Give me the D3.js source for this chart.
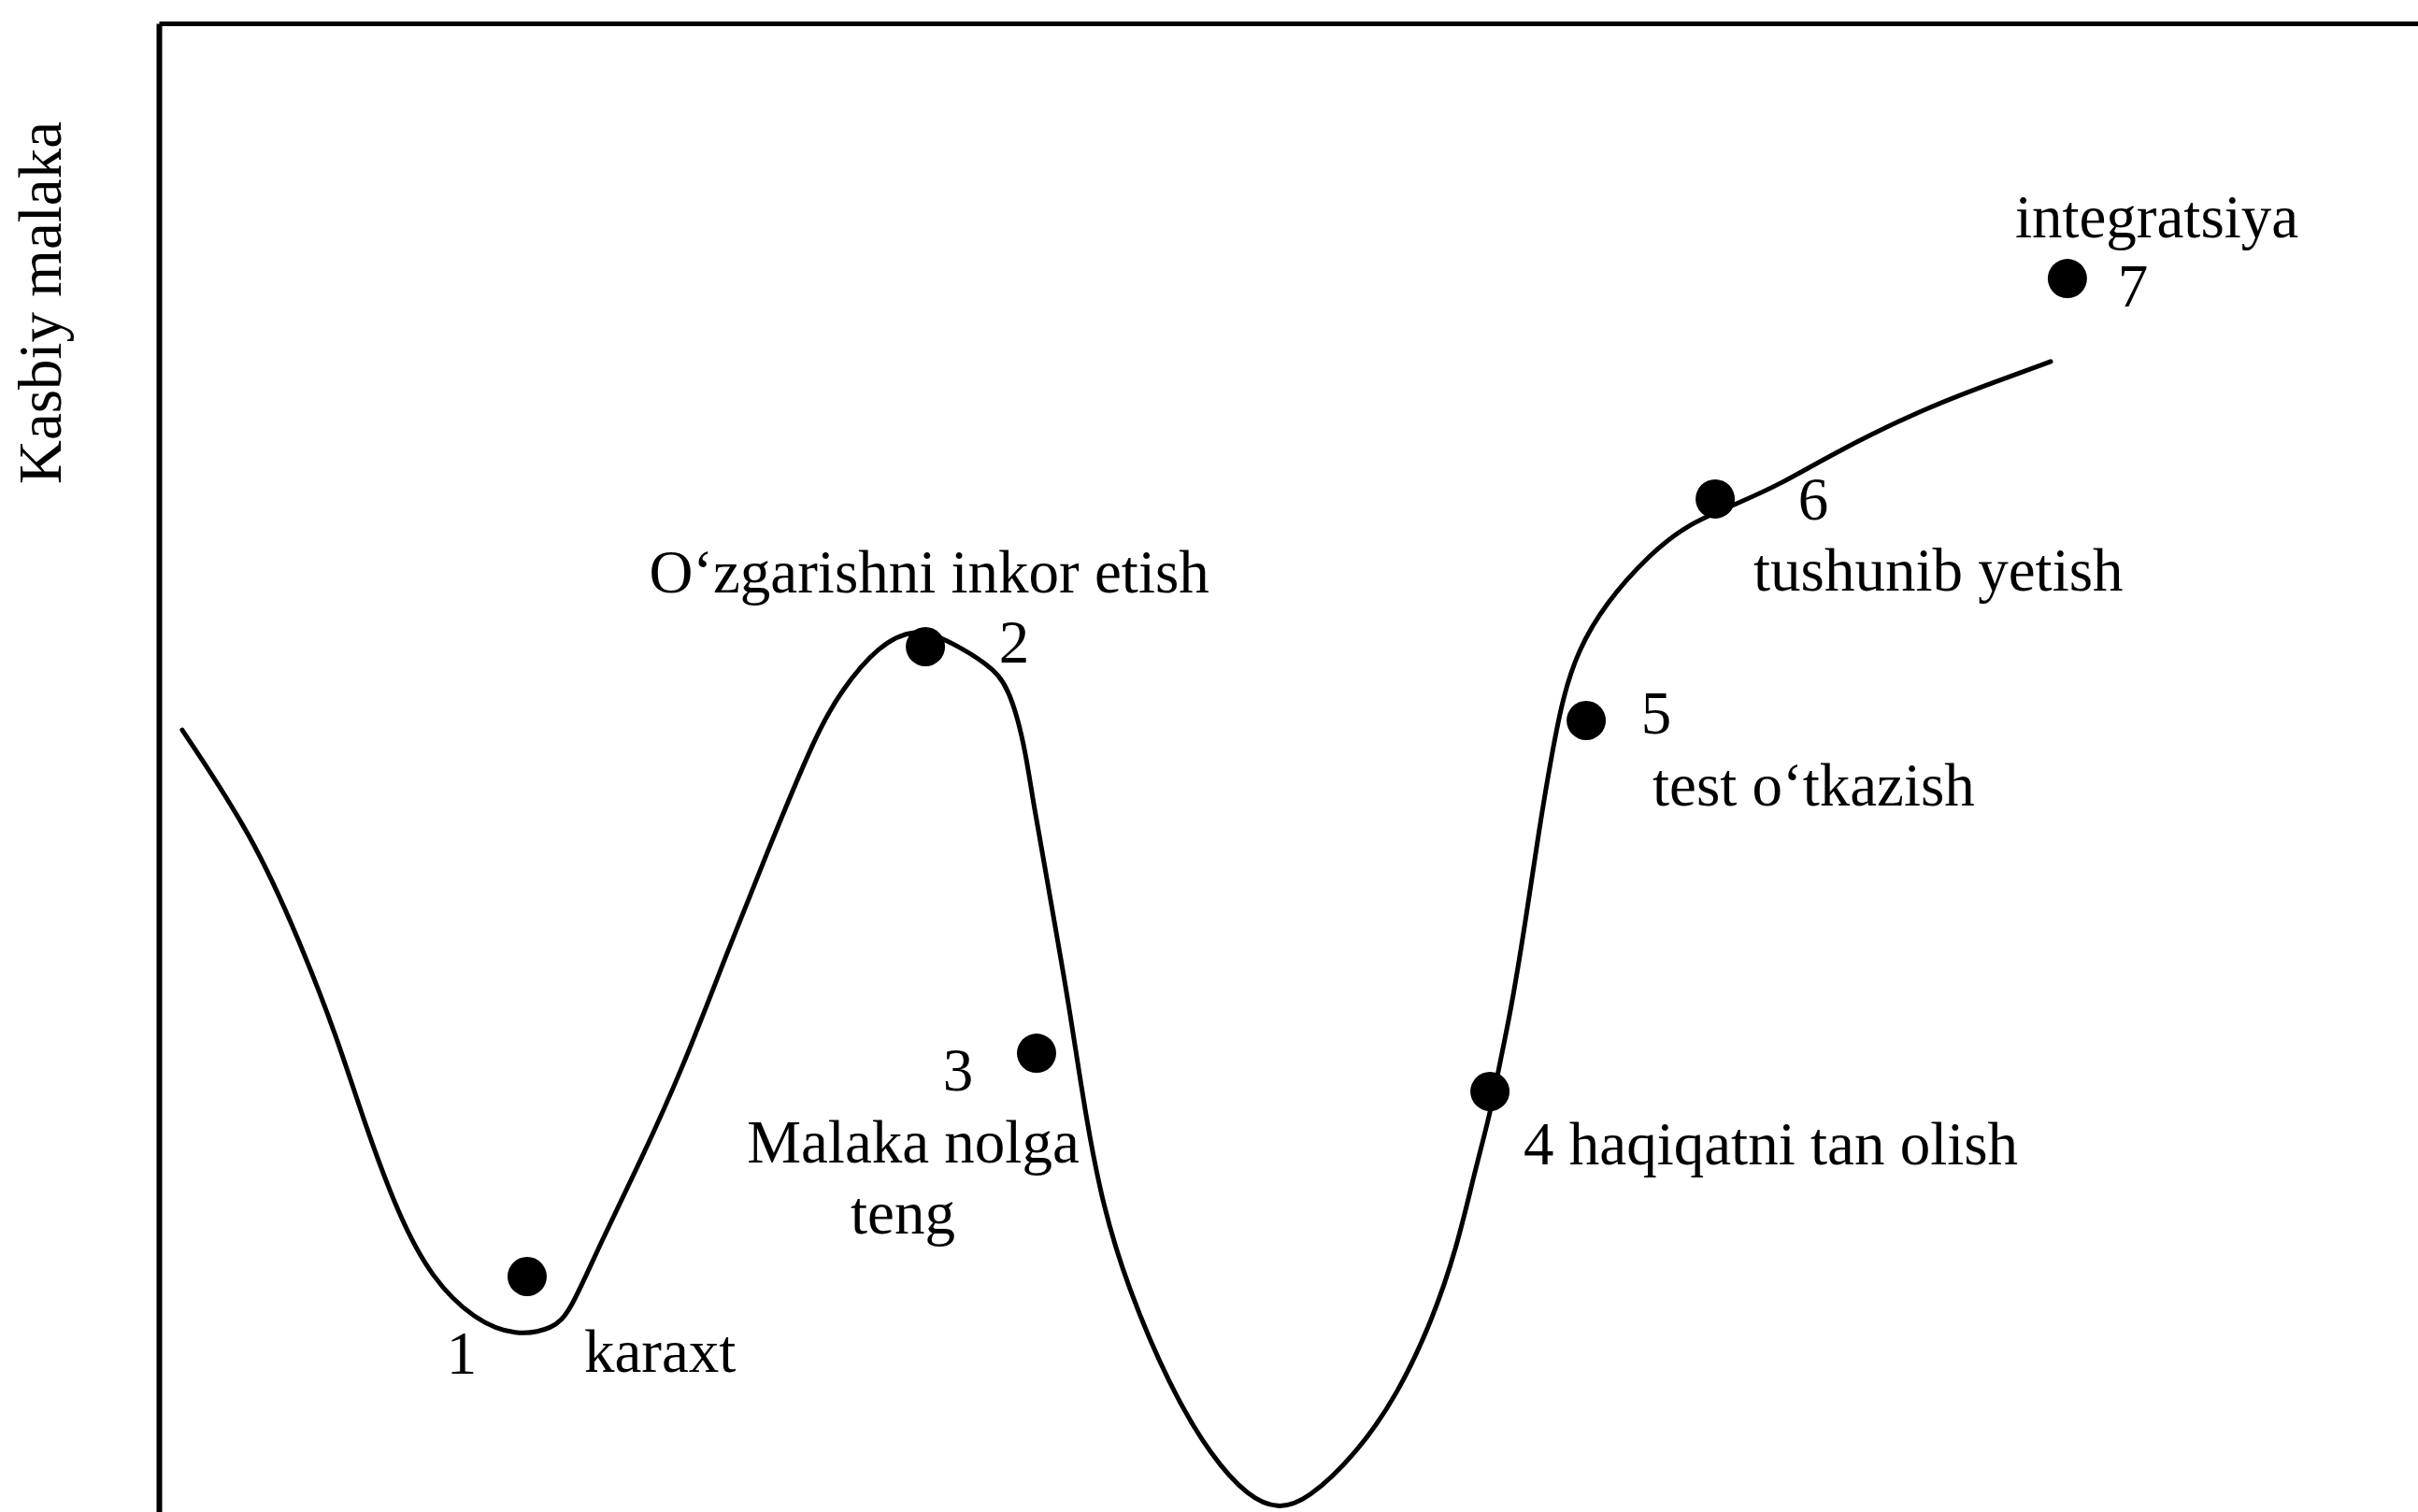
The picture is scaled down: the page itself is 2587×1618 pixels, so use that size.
<!DOCTYPE html>
<html>
<head>
<meta charset="utf-8">
<script src="https://cdn.jsdelivr.net/npm/d3@7"></script>
<style>
  html, body { margin: 0; padding: 0; background: #fff; overflow: hidden; }
  text { font-family: "Liberation Serif", "Times New Roman", serif; fill: #000; }
</style>
</head>
<body>
<div id="chart"></div>
<script>
// curve: time (0-100) vs kasbiy malaka (0-100)
const curveTime = [
  1.03, 4.14, 6.21, 7.86, 9.14, 10.63, 12.08, 13.94, 15.80, 17.46, 18.20, 19.49,
  21.35, 23.17, 25.03, 26.89, 29.09, 30.20, 31.86, 33.51, 34.84, 36.74, 37.61,
  38.31, 38.68, 39.26, 39.80, 40.30, 41.04, 41.79, 42.86, 44.72, 46.59, 48.24,
  49.52, 50.81, 53.04, 54.86, 56.35, 57.47, 58.21, 58.96, 59.29, 59.83, 60.49,
  61.11, 61.65, 62.14, 62.81, 64.05, 65.95, 67.65, 69.76, 71.87, 73.98, 78.20,
  81.92, 83.74
];
const curveSkill = [
  52.54, 45.45, 38.42, 32.02, 25.93, 19.84, 15.69, 12.93, 11.80, 12.30, 13.43, 17.89,
  23.67, 29.76, 37.10, 44.19, 52.29, 55.18, 58.25, 59.39, 58.63, 56.94, 55.49,
  51.66, 47.83, 43.00, 38.23, 33.90, 26.43, 20.53, 15.19, 8.47, 3.70, 1.00,
  0.19, 0.75, 3.95, 7.97, 12.81, 17.83, 22.66, 26.93, 29.69, 33.52, 39.61,
  46.01, 50.85, 54.68, 57.88, 61.08, 64.28, 66.35, 67.67, 69.11, 71.00, 74.20,
  76.27, 77.28
];

// stages
const stageNumbers = ['1', '2', '3', '', '5', '6', '7'];
const stageTime = [16.30, 33.93, 38.85, 58.92, 63.18, 68.89, 84.48];
const stageSkill = [15.82, 58.13, 30.82, 28.25, 53.17, 68.05, 82.86];
const stageNames = [
  ['karaxt'],
  ['O‘zgarishni inkor etish'],
  ['Malaka nolga', 'teng'],
  ['4 haqiqatni tan olish'],
  ['test o‘tkazish'],
  ['tushunib yetish'],
  ['integratsiya']
];
const yLabel = 'Kasbiy malaka';

// label placement (px, relative to the dot)
const numberOffsets = [[-70, 104], [95, 17], [-84, 40], [0, 0], [75, 14], [105, 22], [70, 30]];
const nameLayout = [
  { dx: 61, dy: 102, anchor: 'start' },
  { dx: 4, dy: -58, anchor: 'middle' },
  { dx: -132, dy: 117, anchor: 'middle', lines: [0, -11] },
  { dx: 36, dy: 78, anchor: 'start' },
  { dx: 71, dy: 91, anchor: 'start' },
  { dx: 41, dy: 98, anchor: 'start' },
  { dx: -56, dy: -44, anchor: 'start' }
];

const width = 2587;
const height = 1618;
const margin = { top: 25, right: 0, bottom: 0, left: 170 };
const fontSize = 65;

const svg = d3.select('#chart')
  .append('svg')
  .attr('width', width)
  .attr('height', height);

svg.append('rect')
  .attr('width', width)
  .attr('height', height)
  .attr('fill', '#fff');

const xScale = d3.scaleLinear()
  .domain([0, 100])
  .range([margin.left, width - margin.right]);

const yScale = d3.scaleLinear()
  .domain([0, 100])
  .range([height - margin.bottom, margin.top]);

// axes: plain lines, no ticks
const yAxis = d3.axisLeft(yScale).tickValues([]).tickSizeOuter(0);
const xAxis = d3.axisTop(xScale).tickValues([]).tickSizeOuter(0);

svg.append('g')
  .attr('transform', `translate(${margin.left},0)`)
  .call(yAxis)
  .select('.domain')
  .attr('stroke', '#000')
  .attr('stroke-width', 6);

svg.append('g')
  .attr('transform', `translate(0,${margin.top})`)
  .call(xAxis)
  .select('.domain')
  .attr('stroke', '#000')
  .attr('stroke-width', 5);

svg.append('text')
  .attr('transform', `translate(65,${324}) rotate(-90)`)
  .attr('text-anchor', 'middle')
  .attr('font-size', fontSize)
  .text(yLabel);

// curve
const curveData = curveTime.map((t, i) => ({ t: t, v: curveSkill[i] }));

const line = d3.line()
  .x(d => xScale(d.t))
  .y(d => yScale(d.v))
  .curve(d3.curveBasis);

svg.append('path')
  .datum(curveData)
  .attr('fill', 'none')
  .attr('stroke', '#000')
  .attr('stroke-width', 5)
  .attr('stroke-linecap', 'round')
  .attr('stroke-linejoin', 'round')
  .attr('d', line);

// stage dots
const stages = stageTime.map((t, i) => ({
  t: t,
  v: stageSkill[i],
  num: stageNumbers[i],
  name: stageNames[i],
  numOff: numberOffsets[i],
  layout: nameLayout[i]
}));

svg.selectAll('.dot')
  .data(stages)
  .enter()
  .append('circle')
  .attr('class', 'dot')
  .attr('cx', d => xScale(d.t))
  .attr('cy', d => yScale(d.v))
  .attr('r', 21)
  .attr('fill', '#000');

svg.selectAll('.stage-num')
  .data(stages.filter(d => d.num))
  .enter()
  .append('text')
  .attr('class', 'stage-num')
  .attr('x', d => xScale(d.t) + d.numOff[0])
  .attr('y', d => yScale(d.v) + d.numOff[1])
  .attr('text-anchor', 'middle')
  .attr('font-size', fontSize)
  .text(d => d.num);

const names = svg.selectAll('.stage-name')
  .data(stages)
  .enter()
  .append('text')
  .attr('class', 'stage-name')
  .attr('x', d => xScale(d.t) + d.layout.dx)
  .attr('y', d => yScale(d.v) + d.layout.dy)
  .attr('text-anchor', d => d.layout.anchor)
  .attr('font-size', fontSize);

names.each(function (d) {
  const el = d3.select(this);
  d.name.forEach((s, k) => {
    const shift = d.layout.lines ? d.layout.lines[k] : 0;
    el.append('tspan')
      .attr('x', xScale(d.t) + d.layout.dx + shift)
      .attr('dy', k === 0 ? 0 : 76)
      .text(s);
  });
});
</script>
</body>
</html>
